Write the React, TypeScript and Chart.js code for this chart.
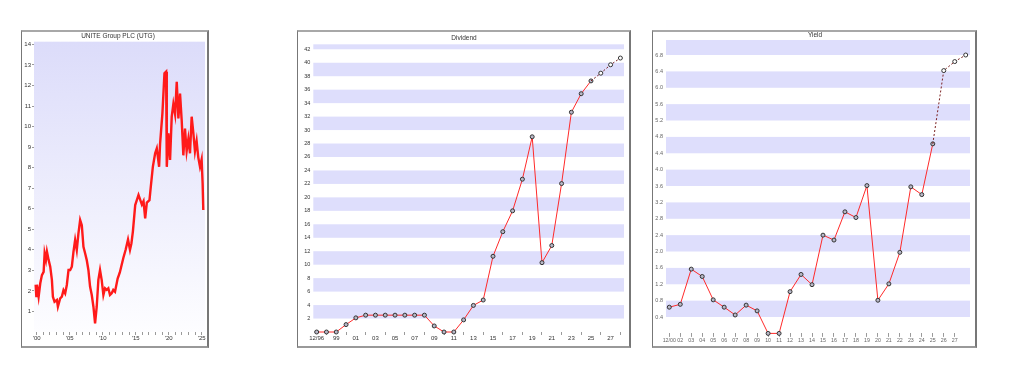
import React, { useEffect, useRef } from 'react';
import { Chart, registerables } from 'chart.js';

Chart.register(...registerables);
Chart.defaults.font.family = '"Liberation Sans", Arial, sans-serif';

// ---------- Price chart data ----------
const priceYears = [
  1999.85, 1999.95, 2000.05, 2000.3, 2000.55, 2000.8, 2001.06, 2001.21, 2001.41, 2001.56,
  2001.81, 2002.06, 2002.31, 2002.46, 2002.71, 2003.07, 2003.22, 2003.57, 2003.82, 2004.07,
  2004.32, 2004.57, 2004.83, 2005.08, 2005.33, 2005.58, 2005.83, 2006.08, 2006.33, 2006.59,
  2006.84, 2007.09, 2007.34, 2007.59, 2007.84, 2008.09, 2008.35, 2008.6, 2008.85, 2009.1,
  2009.35, 2009.6, 2009.85, 2010.11, 2010.36, 2010.61, 2010.86, 2011.11, 2011.36, 2011.61,
  2011.87, 2012.27, 2012.6, 2012.9, 2013.13, 2013.48, 2013.84, 2014.14, 2014.35, 2014.58,
  2014.93, 2015.43, 2015.94, 2016.19, 2016.44, 2016.69, 2017.09, 2017.29, 2017.6, 2017.95,
  2018.2, 2018.55, 2018.7, 2019.05, 2019.36, 2019.61, 2019.71, 2019.96, 2020.21, 2020.46,
  2020.71, 2020.97, 2021.22, 2021.47, 2021.72, 2021.97, 2022.22, 2022.47, 2022.72, 2022.98,
  2023.23, 2023.48, 2023.73, 2023.98, 2024.23, 2024.48, 2024.74, 2024.99, 2025.14, 2025.24,
];
const priceValues = [
  2.3, 1.75, 2.3, 1.72, 2.37, 2.77, 2.93, 3.83, 3.51, 3.91,
  3.51, 3.18, 2.54, 1.72, 1.47, 1.56, 1.23, 1.64, 1.72, 2.04,
  1.88, 2.29, 3.02, 3.02, 3.18, 3.91, 4.48, 3.99, 4.8, 5.45,
  5.2, 4.15, 3.83, 3.5, 3.02, 2.21, 1.8, 1.23, 0.42, 1.23,
  2.54, 3.02, 2.54, 1.8, 2.13, 2.05, 2.13, 1.8, 1.88, 2.05,
  1.96, 2.6, 2.9, 3.3, 3.6, 4.0, 4.5, 4.0, 4.3, 4.9,
  6.18, 6.67, 6.2, 6.37, 5.53, 6.3, 6.42, 7.07, 8.04, 8.7,
  8.94, 8.04, 9.18, 10.64, 12.59, 12.67, 8.04, 9.67, 8.37, 10.48,
  11.1, 10.6, 12.18, 10.4, 11.6, 10.3, 8.6, 9.9, 8.8, 9.4,
  8.7, 10.48, 9.7, 8.8, 9.3, 8.5, 8.04, 8.4, 7.24, 5.94,
];
const priceYTicks = [1, 2, 3, 4, 5, 6, 7, 8, 9, 10, 11, 12, 13, 14];
const priceXTicks = [
  2000, 2001, 2002, 2003, 2004, 2005, 2006, 2007, 2008, 2009, 2010, 2011, 2012,
  2013, 2014, 2015, 2016, 2017, 2018, 2019, 2020, 2021, 2022, 2023, 2024, 2025,
];
const priceTitle = 'UNITE Group PLC (UTG)';

// ---------- Dividend chart data ----------
const dividendLabels = [
  '12/96', '98', '99', '00', '01', '02', '03', '04', '05', '06', '07', '08', '09', '10', '11', '12',
  '13', '14', '15', '16', '17', '18', '19', '20', '21', '22', '23', '24', '25', '26', '27', '28',
];
const dividendValues = [
  0, 0, 0, 1.1, 2.1, 2.5, 2.5, 2.5, 2.5, 2.5, 2.5, 2.5, 0.9, 0, 0, 1.8,
  3.95, 4.75, 11.25, 14.9, 18.0, 22.7, 29.0, 10.3, 12.85, 22.05, 32.65, 35.4, 37.3, 38.45, 39.7, 40.7,
];
const dividendForecastFrom = 28;
const dividendYTicks = [2, 4, 6, 8, 10, 12, 14, 16, 18, 20, 22, 24, 26, 28, 30, 32, 34, 36, 38, 40, 42];

// ---------- Yield chart data ----------
const yieldLabels = [
  '12/00', '02', '03', '04', '05', '06', '07', '08', '09', '10', '11', '12', '13', '14',
  '15', '16', '17', '18', '19', '20', '21', '22', '23', '24', '25', '26', '27',
];
const yieldValues = [
  0.64, 0.71, 1.57, 1.39, 0.82, 0.64, 0.45, 0.69, 0.55, 0, 0, 1.02, 1.44, 1.19,
  2.4, 2.28, 2.97, 2.83, 3.61, 0.81, 1.21, 1.98, 3.58, 3.39, 4.63, 6.42, 6.64, 6.8,
];
const yieldForecastFrom = 24;
const yieldYTicks = [0.4, 0.8, 1.2, 1.6, 2.0, 2.4, 2.8, 3.2, 3.6, 4.0, 4.4, 4.8, 5.2, 5.6, 6.0, 6.4, 6.8];

// ---------- helpers ----------
const BAND = '#dedefc';

const bandsPlugin = (ticks: number[]) => ({
  id: 'bands',
  beforeDatasetsDraw(chart: any) {
    const { ctx, chartArea: a, scales } = chart;
    const y = scales.y;
    const step = ticks[1] - ticks[0];
    ctx.save();
    ctx.fillStyle = BAND;
    for (let i = 0; i < ticks.length; i += 2) {
      const top = Math.max(y.getPixelForValue(ticks[i] + step), a.top);
      const bot = Math.min(y.getPixelForValue(ticks[i]), a.bottom);
      if (bot > top) ctx.fillRect(a.left, top, a.right - a.left, bot - top);
    }
    ctx.restore();
  },
});

const gradientPlugin = {
  id: 'grad',
  beforeDatasetsDraw(chart: any) {
    const { ctx, chartArea: a } = chart;
    const g = ctx.createLinearGradient(0, a.top, 0, a.bottom);
    g.addColorStop(0, '#dcdcfa');
    g.addColorStop(1, '#fdfdff');
    ctx.save();
    ctx.fillStyle = g;
    ctx.fillRect(a.left, a.top, a.right - a.left, a.bottom - a.top);
    ctx.restore();
  },
};

const titlePlugin = (text: string, cx: number, cy: number, size: number, color: string) => ({
  id: 'ttl',
  afterDraw(chart: any) {
    const { ctx } = chart;
    ctx.save();
    ctx.font = `${size}px "Liberation Sans", Arial, sans-serif`;
    ctx.fillStyle = color;
    ctx.textAlign = 'center';
    ctx.textBaseline = 'middle';
    ctx.fillText(text, cx, cy);
    ctx.restore();
  },
});

function fixedY(width: number) {
  return (s: any) => {
    s.width = width;
    s.paddingTop = 0;
    s.paddingBottom = 0;
  };
}
function fixedX(height: number) {
  return (s: any) => {
    s.height = height;
    s.paddingLeft = 0;
    s.paddingRight = 0;
  };
}

function seriesCharts(
  labels: string[],
  values: number[],
  forecastFrom: number,
  yTicks: number[],
  opts: any,
) {
  const actual = values
    .map((v, i) => ({ x: i, y: v }))
    .filter((p) => p.x <= forecastFrom);
  const fc = values.map((v, i) => ({ x: i, y: v })).filter((p) => p.x >= forecastFrom);
  const idx = values.map((_, i) => i);
  return {
    type: 'line',
    data: {
      datasets: [
        {
          data: fc,
          borderColor: '#7a1f1f',
          borderWidth: 1,
          borderDash: [2, 2],
          pointRadius: fc.map((_, i) => (i === 0 ? 0 : 2)),
          pointBorderColor: '#333',
          pointBackgroundColor: '#ffffff',
          pointBorderWidth: 1,
          clip: false,
        },
        {
          data: actual,
          borderColor: '#ff2a2a',
          borderWidth: 1,
          pointRadius: 2,
          pointBorderColor: '#333',
          pointBackgroundColor: '#b8b8c8',
          pointBorderWidth: 1,
          clip: false,
        },
      ],
    },
    options: {
      animation: false,
      responsive: false,
      events: [],
      layout: { padding: { left: 0, top: opts.top, right: opts.right, bottom: 0 } },
      plugins: { legend: { display: false }, tooltip: { enabled: false }, title: { display: false } },
      scales: {
        x: {
          type: 'linear',
          min: opts.xmin,
          max: opts.xmax,
          afterBuildTicks: (s: any) => {
            s.ticks = idx.map((i) => ({ value: i }));
          },
          afterFit: fixedX(opts.xh),
          border: { display: false },
          grid: {
            drawOnChartArea: false,
            drawTicks: true,
            tickLength: opts.tickLen,
            color: (c: any) => (c.tick && opts.showTick(Math.round(c.tick.value)) ? '#9a9a9a' : 'rgba(0,0,0,0)'),
          },
          ticks: {
            autoSkip: false,
            maxRotation: 0,
            minRotation: 0,
            padding: 0,
            color: opts.xColor,
            font: { size: opts.xFont },
            callback: (v: any) => {
              const i = Math.round(v);
              return opts.showLabel(i) ? labels[i] ?? '' : '';
            },
          },
        },
        y: {
          type: 'linear',
          min: opts.ymin,
          max: opts.ymax,
          afterBuildTicks: (s: any) => {
            s.ticks = yTicks.map((v) => ({ value: v }));
          },
          afterFit: fixedY(opts.yw),
          border: { display: false },
          grid: { display: false, drawTicks: false, tickLength: 0 },
          ticks: {
            padding: opts.yPad,
            color: opts.yColor,
            font: { size: opts.yFont },
            callback: (v: any) => opts.yFmt(v),
          },
        },
      },
    },
    plugins: [bandsPlugin(yTicks), titlePlugin(opts.title, opts.tx, opts.ty, 6.5, '#333')],
  };
}

function ChartCanvas({ width, height, make }: { width: number; height: number; make: () => any }) {
  const ref = useRef<HTMLCanvasElement | null>(null);
  useEffect(() => {
    if (!ref.current) return;
    const chart = new Chart(ref.current, make());
    return () => chart.destroy();
  }, []);
  return <canvas ref={ref} width={width} height={height} style={{ display: 'block', width, height }} />;
}

function Panel({ left, top, width, height, children }: any) {
  return (
    <div
      style={{
        position: 'absolute',
        left,
        top,
        width,
        height,
        boxSizing: 'border-box',
        borderTop: '2px solid #a8a8a8',
        borderLeft: '1px solid #777',
        borderRight: '2px solid #777',
        borderBottom: '2px solid #999',
        background: '#fff',
      }}
    >
      {children}
    </div>
  );
}

function makePrice() {
  const pts = priceYears.map((x, i) => ({ x, y: priceValues[i] }));
  return {
    type: 'line',
    data: {
      datasets: [
        { data: pts, borderColor: '#ff1a1a', borderWidth: 2.4, pointRadius: 0, tension: 0, clip: false },
        { data: pts, borderColor: '#ffa0a0', borderWidth: 0.7, pointRadius: 0, tension: 0, clip: false },
      ],
    },
    options: {
      animation: false,
      responsive: false,
      events: [],
      layout: { padding: { left: 0, top: 9.7, right: 2, bottom: 0 } },
      plugins: { legend: { display: false }, tooltip: { enabled: false } },
      scales: {
        x: {
          type: 'linear',
          min: 1999.6,
          max: 2025.5,
          afterBuildTicks: (s: any) => {
            s.ticks = priceXTicks.map((v) => ({ value: v }));
          },
          afterFit: fixedX(14),
          border: { display: false },
          grid: { drawOnChartArea: false, tickLength: 3, color: '#9a9a9a' },
          ticks: {
            autoSkip: false,
            maxRotation: 0,
            padding: 0,
            color: '#333',
            font: { size: 6 },
            callback: (v: any) => (v % 5 === 0 ? "'" + String(v % 100).padStart(2, '0') : ''),
          },
        },
        y: {
          type: 'linear',
          min: 0,
          max: 14.13,
          afterBuildTicks: (s: any) => {
            s.ticks = priceYTicks.map((v) => ({ value: v }));
          },
          afterFit: fixedY(12),
          border: { display: false },
          grid: { drawOnChartArea: false, tickLength: 2, color: '#9a9a9a' },
          ticks: { padding: 1, color: '#333', font: { size: 6 } },
        },
      },
    },
    plugins: [gradientPlugin, titlePlugin(priceTitle, 96, 4.7, 6.5, '#333')],
  };
}

function makeDividend() {
  return seriesCharts(dividendLabels, dividendValues, dividendForecastFrom, dividendYTicks, {
    top: 12.3,
    right: 2.3,
    xh: 14,
    yw: 15.3,
    xmin: -0.344,
    xmax: 31.37,
    ymin: 0,
    ymax: 42.74,
    tickLen: 3,
    showTick: (i: number) => i % 2 === 1,
    showLabel: (i: number) => i % 2 === 0,
    xColor: '#333',
    yColor: '#333',
    xFont: 6,
    yFont: 5.5,
    yPad: 3,
    yFmt: (v: number) => String(v),
    title: 'Dividend',
    tx: 166,
    ty: 6.3,
  });
}

function makeYield() {
  return seriesCharts(yieldLabels, yieldValues, yieldForecastFrom, yieldYTicks, {
    top: 8,
    right: 1.7,
    xh: 12.6,
    yw: 13,
    xmin: -0.3,
    xmax: 27.39,
    ymin: 0,
    ymax: 7.167,
    tickLen: 3.5,
    showTick: (i: number) => i < yieldLabels.length,
    showLabel: (i: number) => i < yieldLabels.length,
    xColor: '#666',
    yColor: '#666',
    xFont: 5.3,
    yFont: 5.5,
    yPad: 3,
    yFmt: (v: number) => v.toFixed(1),
    title: 'Yield',
    tx: 162,
    ty: 3.5,
  });
}

export default function App() {
  return (
    <div style={{ position: 'absolute', left: 0, top: 0, width: 1024, height: 388, background: '#fff' }}>
      <Panel left={21} top={30} width={188} height={318}>
        <ChartCanvas width={185} height={314} make={makePrice} />
      </Panel>
      <Panel left={297} top={30} width={334} height={318}>
        <ChartCanvas width={331} height={314} make={makeDividend} />
      </Panel>
      <Panel left={652} top={30} width={325} height={318}>
        <ChartCanvas width={322} height={314} make={makeYield} />
      </Panel>
    </div>
  );
}
